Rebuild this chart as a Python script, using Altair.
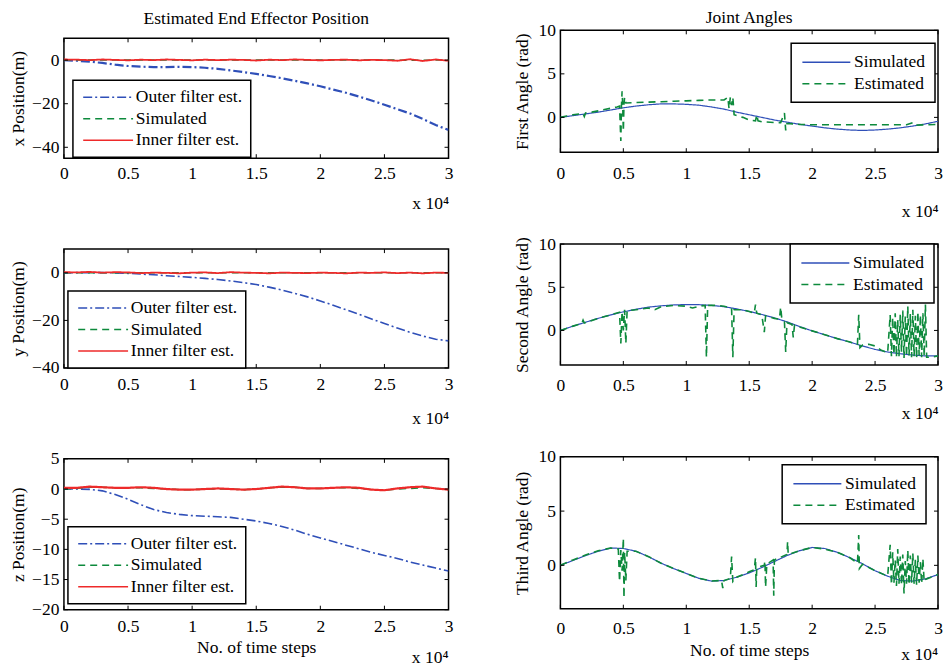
import altair as alt
import pandas as pd

FONT = "Liberation Serif"
FS = 17.5
BLUE = "#2f4fb8"
GREEN = "#0d8a3c"
RED = "#ee2a2a"

# ---------------- data (time steps in units of 10^4) ----------------
T = [0.0, 0.1, 0.2, 0.3, 0.4, 0.5, 0.6, 0.7, 0.8, 0.9, 1.0, 1.1, 1.2, 1.3, 1.4, 1.5,
     1.6, 1.7, 1.8, 1.9, 2.0, 2.1, 2.2, 2.3, 2.4, 2.5, 2.6, 2.7, 2.8, 2.9, 3.0]
XTICKS = [0, 0.5, 1, 1.5, 2, 2.5, 3]
EXP_LABEL = "x 10\u2074"
STEPS_LABEL = "No. of time steps"

LEFT_NAMES = ["Outer filter est.", "Simulated", "Inner filter est."]
RIGHT_NAMES = ["Simulated", "Estimated"]

XPOS_OUTER = [0.0, -0.3, -0.7, -1.3, -2.1, -2.7, -3.0, -3.2, -3.2, -3.1, -3.2, -3.5, -4.0, -4.7, -5.5, -6.3,
              -7.3, -8.3, -9.5, -10.7, -12.0, -13.5, -15.0, -16.7, -18.5, -20.5, -22.5, -24.5, -27.0, -29.8, -32.0]
XPOS_SIM = [0.0, 0.1, 0.1, 0.0, 0.1, 0.1, 0.0, 0.1, 0.1, 0.0, 0.1, 0.1, 0.0, 0.1, 0.1, 0.0,
            0.1, 0.1, 0.0, 0.1, 0.1, 0.0, 0.1, 0.1, 0.0, 0.1, 0.0, -0.1, -0.1, 0.0, 0.0]
XPOS_INNER = [0.3, 0.2, 0.0, 0.3, 0.1, -0.1, 0.2, 0.0, 0.3, 0.1, -0.1, 0.2, 0.0, 0.2, 0.1, -0.2,
              0.2, 0.0, 0.3, 0.1, -0.1, 0.1, 0.2, -0.1, 0.1, 0.0, -0.3, 0.4, -0.4, 0.3, -0.3]

YPOS_OUTER = [0.0, 0.1, 0.1, 0.1, 0.0, -0.2, -0.5, -0.8, -1.2, -1.5, -1.9, -2.3, -2.8, -3.4, -4.1, -4.9,
              -6.0, -7.2, -8.6, -10.1, -11.8, -13.6, -15.5, -17.4, -19.4, -21.3, -23.2, -25.0, -26.6, -27.9, -28.6]
YPOS_SIM = [0.0, 0.1, 0.1, 0.0, 0.1, 0.1, 0.0, 0.0, 0.1, 0.0, 0.0, 0.1, 0.0, 0.1, 0.0, 0.0,
            0.1, 0.0, 0.0, 0.1, 0.0, 0.0, 0.1, 0.0, 0.0, 0.1, 0.0, 0.0, 0.1, 0.0, 0.0]
YPOS_INNER = [0.3, 0.2, 0.4, 0.1, 0.3, 0.2, -0.1, 0.1, 0.0, -0.2, 0.1, 0.2, -0.1, 0.3, 0.1, 0.0,
              -0.2, 0.1, 0.0, -0.1, 0.1, 0.0, -0.2, 0.1, 0.0, 0.2, -0.1, 0.1, -0.2, 0.1, 0.0]

ZPOS_OUTER = [0.0, 0.0, -0.05, -0.3, -0.9, -1.7, -2.6, -3.4, -3.9, -4.2, -4.4, -4.5, -4.6, -4.7, -5.0, -5.3,
              -5.7, -6.2, -6.8, -7.5, -8.1, -8.7, -9.3, -9.9, -10.5, -11.0, -11.5, -12.1, -12.6, -13.1, -13.6]
ZPOS_SIM = [0.0, 0.1, 0.3, 0.3, 0.2, 0.2, 0.2, 0.1, 0.0, -0.1, -0.1, 0.0, 0.0, 0.0, -0.1, 0.0,
            0.2, 0.3, 0.3, 0.1, 0.1, 0.2, 0.2, 0.1, -0.1, -0.2, 0.0, 0.1, 0.2, 0.1, -0.1]
ZPOS_INNER = [0.2, 0.2, 0.4, 0.3, 0.2, 0.2, 0.3, 0.2, 0.0, -0.1, -0.1, 0.0, 0.1, 0.0, -0.1, 0.0,
              0.2, 0.4, 0.3, 0.1, 0.1, 0.2, 0.3, 0.2, -0.1, -0.2, 0.1, 0.3, 0.4, 0.1, -0.1]

ANG1_SIM = [0.0, 0.2, 0.4, 0.6, 0.85, 1.1, 1.3, 1.45, 1.55, 1.55, 1.5, 1.4, 1.2, 0.95, 0.6, 0.3,
            0.0, -0.3, -0.55, -0.8, -1.0, -1.2, -1.35, -1.45, -1.5, -1.45, -1.35, -1.2, -1.0, -0.75, -0.45]
ANG1_EST_T = [0.0, 0.05, 0.1, 0.15, 0.18, 0.19, 0.2, 0.25, 0.3, 0.35,
              0.4, 0.45, 0.47, 0.48, 0.485, 0.49, 0.495, 0.5, 0.505, 0.51,
              0.52, 0.6, 0.7, 0.8, 0.9, 1.0, 1.1, 1.2, 1.3, 1.33,
              1.34, 1.35, 1.36, 1.37, 1.38, 1.4, 1.45, 1.5, 1.55, 1.56,
              1.57, 1.6, 1.7, 1.75, 1.78, 1.79, 1.8, 1.9, 2.0, 2.5,
              2.75, 2.8, 2.82, 3.0]
ANG1_EST_V = [0.0, 0.15, 0.3, 0.4, 0.45, 0.1, 0.5, 0.6, 0.75, 0.9,
              1.05, 1.2, 1.3, -2.7, 1.3, 3.0, 1.4, -1.6, 1.5, 2.3,
              1.65, 1.7, 1.75, 1.8, 1.85, 1.9, 1.95, 2.0, 2.0, 2.3,
              1.0, 2.3, 1.4, 2.3, 0.3, 0.2, 0.0, -0.3, -0.4, 0.3,
              -0.4, -0.5, -0.6, -0.6, 0.5, -1.5, -0.7, -0.8, -0.85, -0.85,
              -0.85, -0.6, -0.9, -0.8]

ANG2_SIM = [0.0, 0.5, 0.95, 1.4, 1.8, 2.15, 2.45, 2.7, 2.85, 2.95, 3.0, 2.98, 2.9, 2.75, 2.5, 2.2,
            1.85, 1.45, 1.0, 0.45, -0.05, -0.5, -0.95, -1.35, -1.8, -2.2, -2.5, -2.7, -2.85, -2.95, -2.95]
ANG2_EST_T = [0.0, 0.1, 0.17, 0.18, 0.19, 0.3, 0.4, 0.47, 0.48, 0.49,
              0.5, 0.51, 0.52, 0.53, 0.6, 0.7, 0.75, 0.8, 0.9, 1.0,
              1.05, 1.1, 1.15, 1.16, 1.17, 1.25, 1.3, 1.36, 1.37, 1.38,
              1.45, 1.5, 1.54, 1.55, 1.56, 1.6, 1.62, 1.63, 1.7, 1.74,
              1.75, 1.76, 1.78, 1.79, 1.8, 1.84, 1.85, 1.86, 1.9, 2.0,
              2.1, 2.2, 2.3, 2.36, 2.37, 2.38, 2.4, 2.45, 2.5, 2.55,
              2.6,
              2.62, 2.63, 2.64, 2.65, 2.66, 2.67, 2.68, 2.69, 2.70, 2.71,
              2.72, 2.73, 2.74, 2.75, 2.76, 2.77, 2.78, 2.79, 2.80, 2.81,
              2.82, 2.83, 2.84, 2.85, 2.86, 2.87, 2.88, 2.89, 2.90, 2.91,
              2.95, 3.0]
ANG2_EST_V = [0.0, 0.5, 0.8, 1.2, 0.85, 1.4, 1.8, 2.1, -1.5, 2.2,
              0.0, 2.4, -1.5, 2.3, 2.4, 2.6, 2.4, 2.75, 2.9, 2.8,
              2.6, 2.8, 2.9, -3.1, 2.9, 2.9, 2.8, 2.6, -3.1, 2.4,
              2.4, 2.2, 2.0, 3.0, 2.0, 1.8, -0.2, 1.7, 1.4, 1.3,
              2.7, 1.2, 1.0, -2.5, 0.9, 0.7, -0.8, 0.6, 0.4, -0.05,
              -0.5, -0.95, -1.35, -1.6, 1.8, -2.0, -1.7, -1.6, -1.8, -2.3,
              -2.6,
              1.8, -3.0, 1.5, -2.8, 2.0, -3.1, 1.2, -3.0, 1.8, -2.5,
              2.3, -3.2, 1.6, -3.0, 2.8, -2.9, 1.9, -3.1, 2.4, -3.0,
              1.7, -3.2, 2.2, -2.9, 1.8, -3.1, 2.0, -3.0, 3.0, -3.1,
              -3.1, -2.95]

ANG3_SIM = [0.0, 0.45, 0.9, 1.3, 1.6, 1.55, 1.3, 0.8, 0.2, -0.3, -0.75, -1.2, -1.45, -1.4, -1.1, -0.7,
            -0.2, 0.35, 0.9, 1.35, 1.65, 1.55, 1.2, 0.7, 0.15, -0.5, -1.0, -1.4, -1.45, -1.25, -0.85]
ANG3_EST_T = [0.0, 0.1, 0.2, 0.3, 0.4, 0.46, 0.47, 0.48, 0.49, 0.5,
              0.505, 0.51, 0.52, 0.53, 0.6, 0.7, 0.8, 0.9, 1.0, 1.1,
              1.2, 1.28, 1.29, 1.3, 1.35, 1.36, 1.37, 1.4, 1.5, 1.54,
              1.55, 1.555, 1.56, 1.62, 1.625, 1.63, 1.64, 1.69, 1.695, 1.7,
              1.8, 1.805, 1.81, 1.9, 2.0, 2.1, 2.2, 2.3, 2.36, 2.37,
              2.375, 2.4, 2.5, 2.6,
              2.62, 2.63, 2.64, 2.65, 2.66, 2.67, 2.68, 2.69, 2.70, 2.71,
              2.72, 2.73, 2.74, 2.75, 2.76, 2.77, 2.78, 2.79, 2.80, 2.81,
              2.82, 2.83, 2.84, 2.85, 2.86, 2.87, 2.88, 2.89,
              2.9, 3.0]
ANG3_EST_V = [0.0, 0.5, 0.95, 1.35, 1.6, 1.5, -1.5, 1.4, -0.5, 2.5,
              -3.0, 1.2, -1.4, 1.3, 1.3, 0.8, 0.2, -0.3, -0.75, -1.2,
              -1.45, -1.4, -2.1, -1.4, -1.2, 0.8, -1.5, -1.1, -0.6, -0.4,
              0.7, -2.0, -0.2, 0.0, 0.4, -2.0, 0.1, 0.5, -2.8, 0.5,
              1.0, 2.2, 1.0, 1.35, 1.65, 1.5, 1.2, 0.7, 0.2, 2.8,
              -0.3, 0.1, -0.5, -1.0,
              1.9, -1.8, 1.2, -1.6, 0.5, -1.9, 1.5, -1.7, 0.8, -1.8,
              1.0, -2.6, 0.4, -1.7, 1.4, -1.8, 0.9, -1.6, 1.1, -1.7,
              0.5, -1.8, 0.9, -1.6, 0.3, -1.7, 0.6, -1.5,
              -1.3, -0.85]


def panel(series, colors, dashes, widths, ydom, yticks, ytitle, W, H, leg_xy, pad,
          sym_path, lab_off, xlab_pad, xtitle, xtitle_pad, ytitle_pad, anchor="end",
          title=None, title_offset=0, exp_y=None):
    names = [s[0] for s in series]
    cscale = alt.Scale(domain=names, range=colors)
    dscale = alt.Scale(domain=names, range=dashes)
    legend = alt.Legend(title=None, orient="none", legendX=leg_xy[0], legendY=leg_xy[1],
                        symbolType=sym_path, symbolSize=256, symbolStrokeWidth=1.5,
                        labelFont=FONT, labelFontSize=FS, labelColor="black",
                        padding=pad, rowPadding=3.5, labelOffset=lab_off,
                        strokeColor="black", fillColor="white")
    xs = alt.Scale(domain=[0, 3], nice=False, zero=False)
    ys = alt.Scale(domain=ydom, nice=False, zero=False)
    xaxis = alt.Axis(values=XTICKS, format="~g", title=xtitle, titleAnchor=anchor,
                     titlePadding=xtitle_pad, labelPadding=xlab_pad, labelFlush=False)
    yaxis = alt.Axis(values=yticks, title=ytitle, labelPadding=5, titlePadding=ytitle_pad,
                     labelFlush=False)
    layers = []
    for (name, t, v), w in zip(series, widths):
        df = pd.DataFrame({"t": t, "v": v, "s": name})
        layers.append(
            alt.Chart(df).mark_line(strokeWidth=w, clip=True).encode(
                x=alt.X("t:Q", scale=xs, axis=xaxis),
                y=alt.Y("v:Q", scale=ys, axis=yaxis),
                color=alt.Color("s:N", scale=cscale, legend=legend),
                strokeDash=alt.StrokeDash("s:N", scale=dscale, legend=legend),
            )
        )
    xt = pd.DataFrame({"t": XTICKS})
    yt = pd.DataFrame({"v": yticks})
    rule = dict(color="black", strokeWidth=1)
    layers.append(alt.Chart(xt).mark_rule(**rule).encode(
        x=alt.X("t:Q", scale=xs, axis=xaxis), y=alt.value(H), y2=alt.value(H - 4)))
    layers.append(alt.Chart(xt).mark_rule(**rule).encode(
        x=alt.X("t:Q", scale=xs, axis=xaxis), y=alt.value(0), y2=alt.value(4)))
    layers.append(alt.Chart(yt).mark_rule(**rule).encode(
        y=alt.Y("v:Q", scale=ys, axis=yaxis), x=alt.value(0), x2=alt.value(4)))
    layers.append(alt.Chart(yt).mark_rule(**rule).encode(
        y=alt.Y("v:Q", scale=ys, axis=yaxis), x=alt.value(W), x2=alt.value(W - 4)))
    if exp_y is not None:
        layers.append(alt.Chart(pd.DataFrame({"lab": [EXP_LABEL]})).mark_text(
            align="right", baseline="middle", font=FONT, fontSize=FS, color="black"
        ).encode(x=alt.value(W), y=alt.value(exp_y), text="lab:N"))
    props = dict(width=W, height=H)
    if title is not None:
        props["title"] = alt.TitleParams(title, offset=title_offset, fontSize=FS, font=FONT,
                                         fontWeight="normal", anchor="middle", color="black")
    return alt.layer(*layers).properties(**props)


LC = [BLUE, GREEN, RED]
LD = [[9, 3, 2, 3], [7, 5], [1, 0]]
RC = [BLUE, GREEN]
RD = [[1, 0], [7, 5]]
WL = 385
WR = 378
LPATH = "M-0.84,0H5.4"
RPATH = "M-0.97,0H5.03"

L1 = panel([(LEFT_NAMES[0], T, XPOS_OUTER), (LEFT_NAMES[1], T, XPOS_SIM), (LEFT_NAMES[2], T, XPOS_INNER)],
           LC, LD, [2.2, 1.5, 1.8], [-45, 10], [-40, -20, 0], "x Position(m)", WL, 120, (9, 42), 8,
           LPATH, 37, 6.5, EXP_LABEL, 12, 4, title="Estimated End Effector Position", title_offset=10)
L2 = panel([(LEFT_NAMES[0], T, YPOS_OUTER), (LEFT_NAMES[1], T, YPOS_SIM), (LEFT_NAMES[2], T, YPOS_INNER)],
           LC, LD, [1.6, 1.5, 1.8], [-40, 10], [-40, -20, 0], "y Position(m)", WL, 119, (4, 42), 8,
           LPATH, 37, 8, EXP_LABEL, 16, 4)
L3 = panel([(LEFT_NAMES[0], T, ZPOS_OUTER), (LEFT_NAMES[1], T, ZPOS_SIM), (LEFT_NAMES[2], T, ZPOS_INNER)],
           LC, LD, [1.6, 1.5, 2.2], [-20, 5], [-20, -15, -10, -5, 0, 5], "z Position(m)", WL, 151, (4, 68), 8,
           LPATH, 37, 7.5, STEPS_LABEL, 4, 4, anchor="middle", exp_y=151 + 48)

R1 = panel([(RIGHT_NAMES[0], T, ANG1_SIM), (RIGHT_NAMES[1], ANG1_EST_T, ANG1_EST_V)],
           RC, RD, [1.2, 1.6], [-4, 10], [0, 5, 10], "First Angle (rad)", WR, 122, (231, 13), 10,
           RPATH, 35, 12, EXP_LABEL, 21, 6, title="Joint Angles", title_offset=-5.5)
R2 = panel([(RIGHT_NAMES[0], T, ANG2_SIM), (RIGHT_NAMES[1], ANG2_EST_T, ANG2_EST_V)],
           RC, RD, [1.2, 1.6], [-4, 10], [0, 5, 10], "Second Angle (rad)", WR, 121, (230, 0), 10,
           RPATH, 35, 12, EXP_LABEL, 10, 6)
R3 = panel([(RIGHT_NAMES[0], T, ANG3_SIM), (RIGHT_NAMES[1], ANG3_EST_T, ANG3_EST_V)],
           RC, RD, [1.2, 1.6], [-4, 10], [0, 5, 10], "Third Angle (rad)", WR, 152, (222, 8), 10,
           RPATH, 35, 11, STEPS_LABEL, 4.5, 6, anchor="middle", exp_y=152 + 46)

# invisible spacer that lowers the left column by a few pixels
SPACER_DATA = pd.DataFrame({"t": [0]})
spacer = alt.Chart(SPACER_DATA).mark_point(opacity=0, size=1).encode(
    x=alt.X("t:Q", axis=None), y=alt.Y("t:Q", axis=None)
).properties(width=WL, height=1, view=alt.ViewBackground(strokeOpacity=0))

RES = dict(x="independent", y="independent", color="independent", strokeDash="independent")
left_inner = alt.vconcat(L1, L2, L3, spacing=91, bounds="flush").resolve_scale(**RES).resolve_legend(
    color="independent", strokeDash="independent")
left = alt.vconcat(spacer, left_inner, spacing=7, bounds="flush").resolve_scale(**RES).resolve_legend(
    color="independent", strokeDash="independent")
right = alt.vconcat(R1, R2, R3, spacing=92, bounds="flush").resolve_scale(**RES).resolve_legend(
    color="independent", strokeDash="independent")

chart = (
    alt.hconcat(left, right, spacing=58)
    .resolve_scale(**RES)
    .resolve_legend(color="independent", strokeDash="independent")
    .properties(padding={"left": 0, "top": 0, "right": 0, "bottom": 0}, background="white")
    .configure_view(stroke="black", strokeWidth=1.5)
    .configure_axis(grid=False, domain=False, ticks=False, labelFont=FONT, labelFontSize=FS,
                    labelColor="black", titleFont=FONT, titleFontSize=FS, titleFontWeight="normal",
                    titleColor="black")
    .configure_legend(strokeWidth=1.5)
)

chart.save("out.html", embed_options={"renderer": "svg", "actions": False})
